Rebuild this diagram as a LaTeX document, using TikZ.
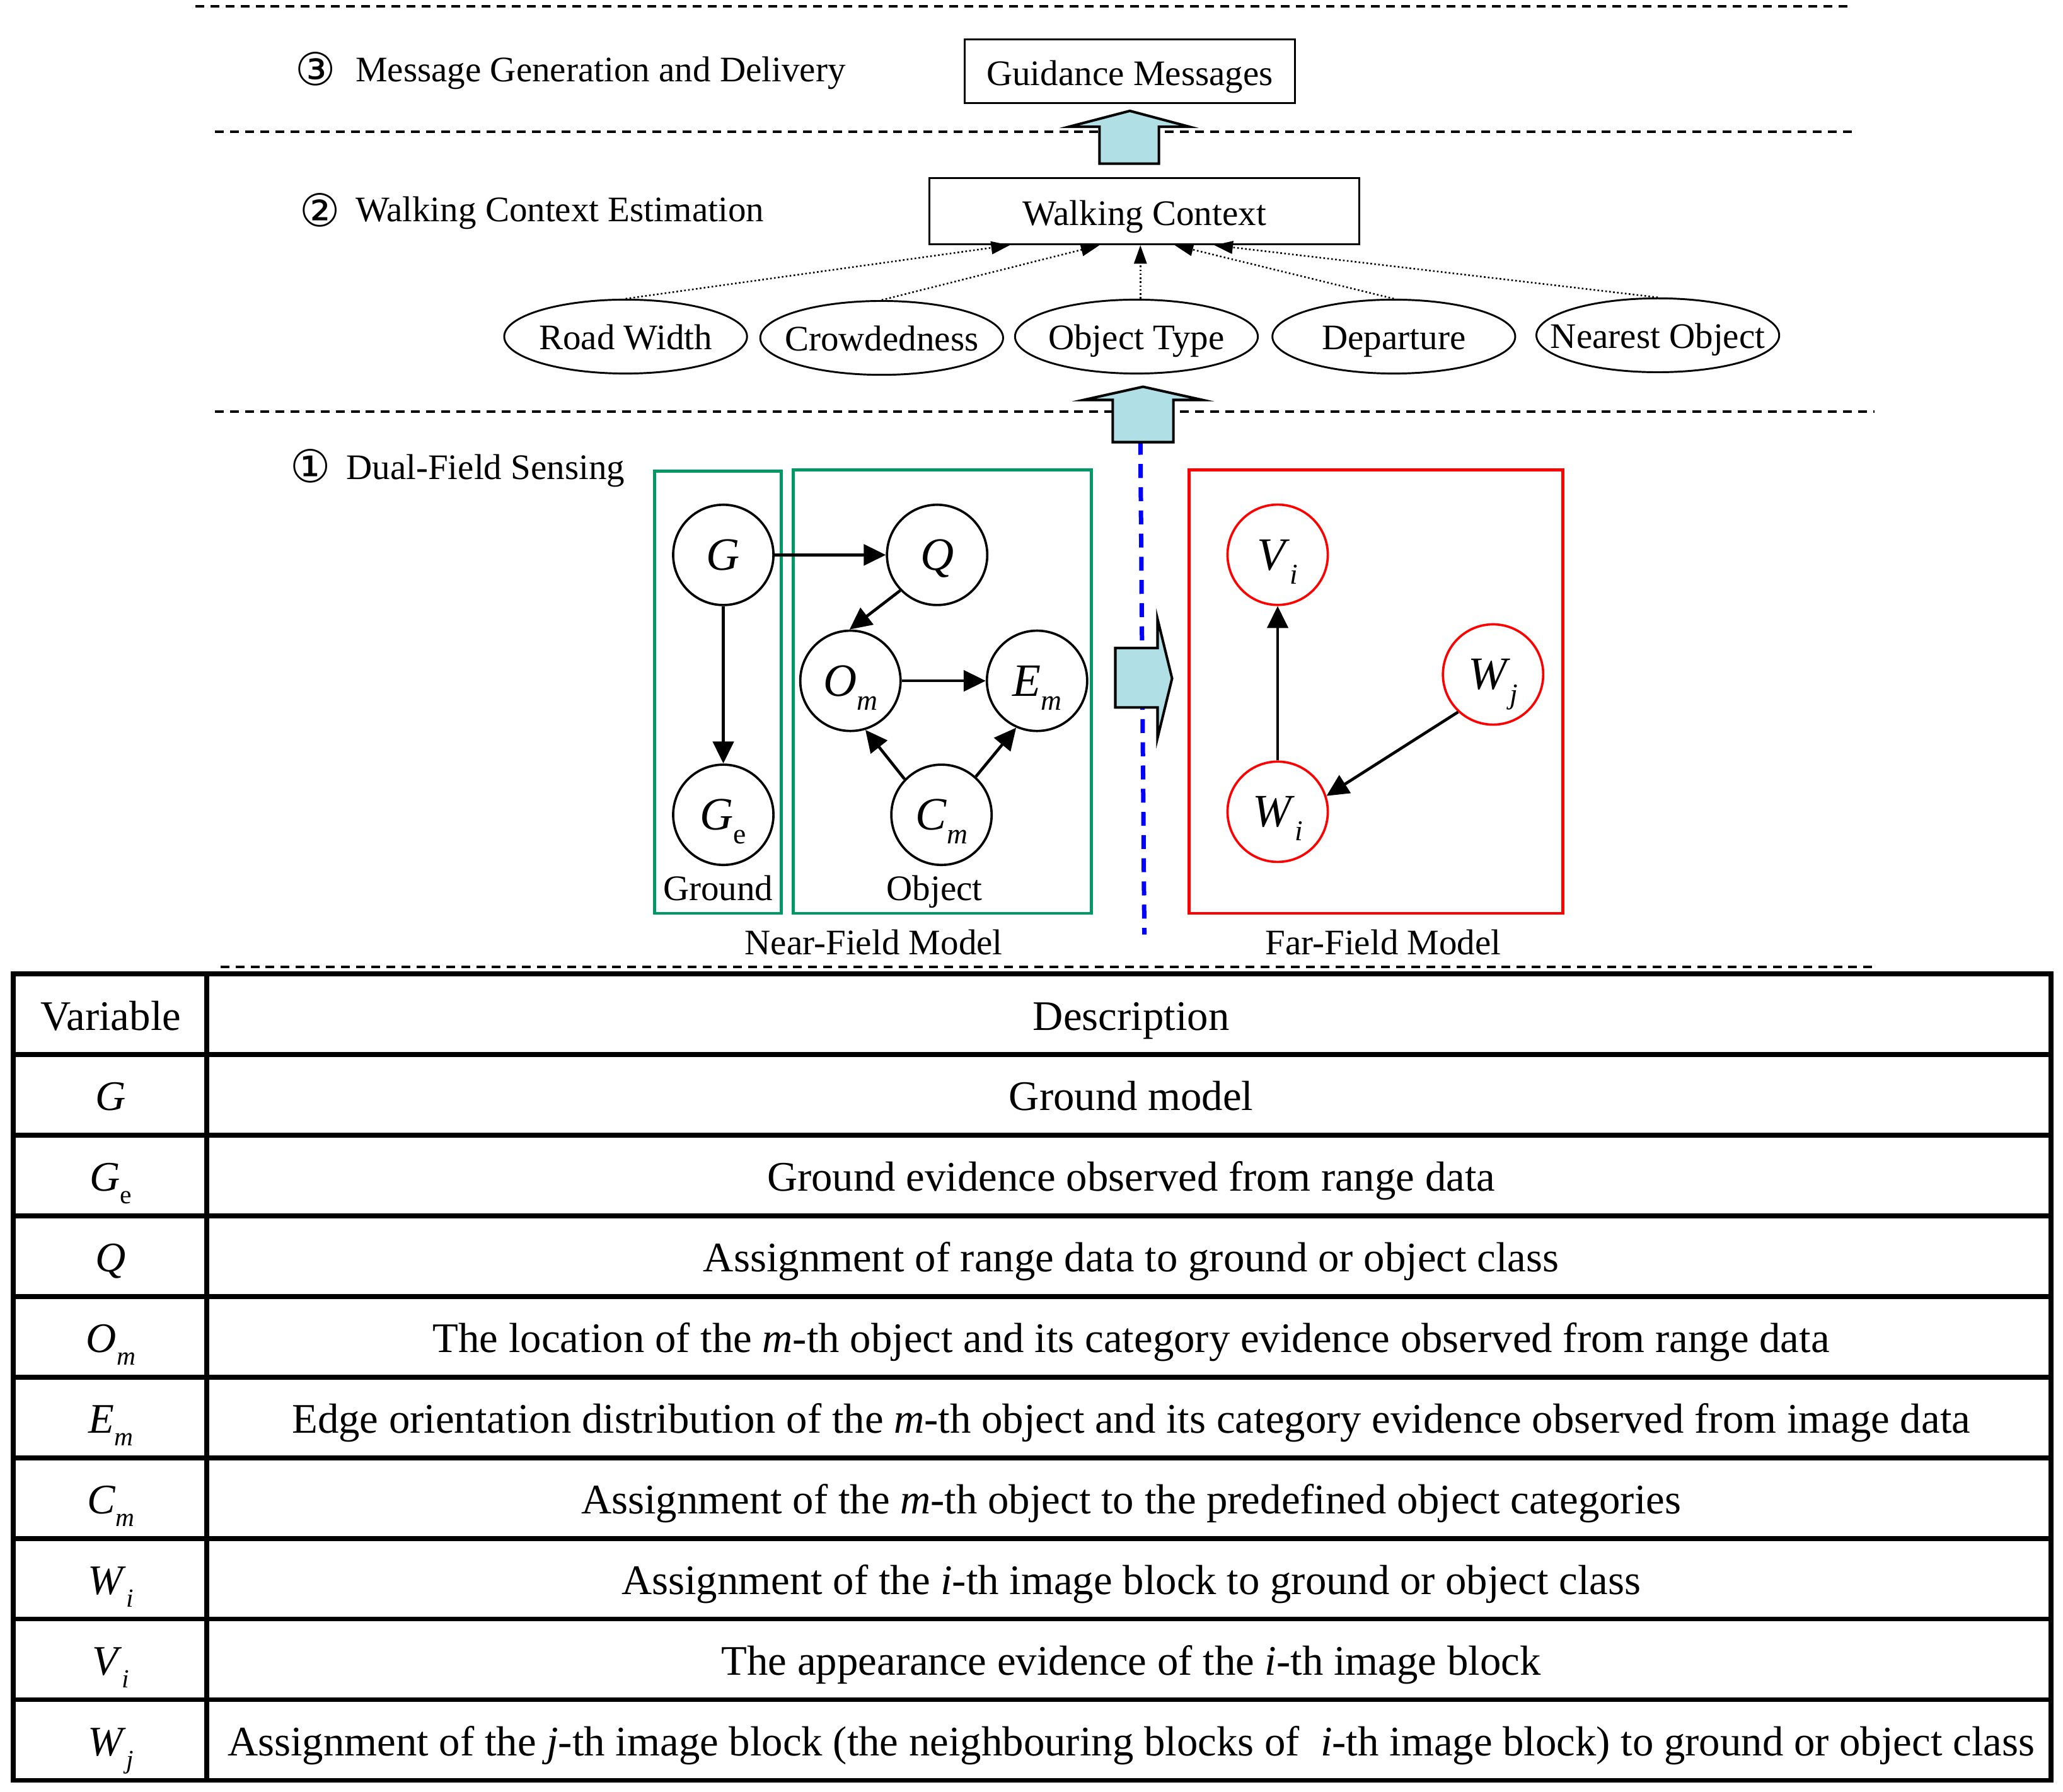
\documentclass[tikz,border=0pt]{standalone}
\usepackage{fontspec}
\setmainfont{Liberation Serif}
\newfontfamily\circfont{DejaVu Sans}
\usepackage{graphicx}
\usetikzlibrary{positioning,calc,shapes.geometric,arrows.meta}
\definecolor{neargreen}{RGB}{0,153,102}
\definecolor{farred}{RGB}{255,0,0}
\definecolor{flowcyan}{RGB}{176,224,230}
\newcommand{\toplabel}{\fontsize{15.5}{18}\selectfont}
\newcommand{\nodefont}{\fontsize{20}{24}\selectfont}
\newcommand{\tablefont}{\fontsize{18.15}{22}\selectfont}
\newcommand{\circnum}[1]{{\circfont\fontsize{19.5}{20}\selectfont #1}}
\newcommand{\sv}[2]{\textit{#1}\raisebox{-0.3em}{\scalebox{0.62}{#2}}}
\newcommand{\cuetext}[1]{\makebox[0pt]{#1}}

\begin{document}
\begin{tikzpicture}[x=0.02cm,y=-0.02cm,
		layerline/.style={line width=1.1pt,dash pattern=on 3.8pt off 2.7pt},
		stagebox/.style={draw,line width=0.9pt,inner sep=0pt,font=\toplabel,text height=12.4pt,text depth=0pt},
		cue/.style={draw,ellipse,line width=0.8pt,minimum width=3.68cm,minimum height=1.12cm,inner sep=0pt,font=\toplabel,text height=11pt,text depth=0pt},
		cuearrow/.style={densely dotted,line width=0.7pt,-{Triangle[length=8pt,width=5.5pt]}},
		blockarrow/.style={draw,line width=1.1pt,fill=flowcyan,line join=miter},
		nearvar/.style={draw,circle,line width=1pt,minimum size=1.52cm,inner sep=0pt,font=\nodefont,text height=13pt,text depth=0pt},
		farvar/.style={nearvar,draw=farred},
		depedge/.style={line width=1.25pt,-{Triangle[length=9.5pt,width=9pt]}},
		steplabel/.style={anchor=base west,inner sep=0pt,font=\toplabel},
		tabletext/.style={anchor=base,inner sep=0pt,font=\tablefont}]
	\useasboundingbox (0,0) rectangle (1563,1357.2);
	
	% layer separators
	\foreach \xa/\xb/\yy in {148/1403/4.7, 163/1403/99.8, 163/1420/311.7, 167/1422/732.5} {
		\draw[layerline] (\xa,\yy) -- (\xb,\yy);
	}
	
	% (3) message generation
	\node[inner sep=0pt] (num3) at (239.3,52) {\circnum{③}};
	\node[steplabel] (step3) at (269,62) {Message Generation and Delivery};
	\node[stagebox,minimum width=5cm,minimum height=0.96cm] (msg) at (856,54) {Guidance Messages};
	\draw[blockarrow] (833,124) -- (833,96) -- (810,96) -- (856,84) -- (901,96) -- (878,96) -- (878,124) -- cycle;
	
	% (2) walking context
	\node[inner sep=0pt] (num2) at (242.5,159) {\circnum{②}};
	\node[steplabel] (step2) at (269,168) {Walking Context Estimation};
	\node[stagebox,minimum width=6.52cm,minimum height=1cm] (wc) at (867,160) {Walking Context};
	
	\node[cue] (road) at (474,255) {\cuetext{Road Width}};
	\node[cue] (crowd) at (668,256) {\cuetext{Crowdedness}};
	\node[cue] (otype) at (861,255) {\cuetext{Object Type}};
	\node[cue] (depart) at (1056,255) {\cuetext{Departure}};
	\node[cue] (nearest) at (1256,254) {\cuetext{Nearest Object}};
	
	\draw[cuearrow] (road.north) -- ($(wc.south)+(-102,0)$);
	\draw[cuearrow] (crowd.north) -- ($(wc.south)+(-34,0)$);
	\draw[cuearrow] ($(otype.north)+(3,0)$) -- ($(wc.south)+(-3,0)$);
	\draw[cuearrow] (depart.north) -- ($(wc.south)+(23,0)$);
	\draw[cuearrow] (nearest.north) -- ($(wc.south)+(53,0)$);
	
	% (1) dual-field sensing
	\node[inner sep=0pt] (num1) at (235.5,353) {\circnum{①}};
	\node[steplabel] (step1) at (262,363) {Dual-Field Sensing};
	
	\draw[blue,line width=1.9pt,dash pattern=on 6pt off 4pt] (864,334) -- (867,708);
	\draw[blockarrow] (843,335) -- (843,303) -- (821,303) -- (866,293) -- (911,303) -- (889,303) -- (889,335) -- cycle;
	\draw[blockarrow] (845,491) -- (877,491) -- (877,469) -- (888,514) -- (877,559) -- (877,536) -- (845,536) -- cycle;
	
	% near-field model
	\draw[neargreen,line width=1.25pt] (496,357) rectangle (592,692);
	\draw[neargreen,line width=1.25pt] (601,356) rectangle (827,692);
	\node[nearvar] (g) at (548,420.4) {\textit{G}};
	\node[nearvar] (q) at (710,420.4) {\textit{Q}};
	\node[nearvar] (om) at (644.3,515.8) {\sv{O}{\textit{m}}};
	\node[nearvar] (em) at (785.7,515.8) {\sv{E}{\textit{m}}};
	\node[nearvar] (ge) at (548,617.3) {\sv{G}{e}};
	\node[nearvar] (cm) at (713.3,617.3) {\sv{C}{\textit{m}}};
	\node[anchor=base,inner sep=0pt,font=\toplabel] (groundlbl) at (544,682) {Ground};
	\node[anchor=base,inner sep=0pt,font=\toplabel] (objectlbl) at (708,682) {Object};
	\node[anchor=base,inner sep=0pt,font=\toplabel] (nearlbl) at (662,723) {Near-Field Model};
	
	\draw[depedge] (g) -- (q);
	\draw[depedge] (g) -- (ge);
	\draw[depedge] (q.224) -- (om.91);
	\draw[depedge] (om) -- (em);
	\draw[depedge] (cm.136) -- (om.287);
	\draw[depedge] (cm.48) -- (em.246);
	
	% far-field model
	\draw[farred,line width=1.25pt] (901,356) rectangle (1184,692);
	\node[farvar] (vi) at (968,420.3) {\sv{V}{\textit{i}}};
	\node[farvar] (wj) at (1131.2,511) {\sv{W}{\textit{j}}};
	\node[farvar] (wi) at (968,615) {\sv{W}{\textit{i}}};
	\node[anchor=base,inner sep=0pt,font=\toplabel] (farlbl) at (1048,723) {Far-Field Model};
	
	\draw[depedge] (wi) -- (vi);
	\draw[depedge] (wj.227) -- (wi.18);
	
	% variable table
	\draw[line width=2.1pt] (10,737.8) rectangle (1554,1348.8);
	\draw[line width=2.1pt] (156.6,737.8) -- (156.6,1348.8);
	\foreach \k in {1,...,9} {
		\draw[line width=2.1pt] (10,{737.8+61.1*\k}) -- (1554,{737.8+61.1*\k});
	}
	\node[tabletext] (varhead) at (84,780.3) {Variable};
	\node[tabletext] (deschead) at (857,780.3) {Description};
	\foreach \vv/\dd [count=\r] in {
		{\textit{G}}/{Ground model},
		{\sv{G}{e}}/{Ground evidence observed from range data},
		{\textit{Q}}/{Assignment of range data to ground or object class},
		{\sv{O}{\textit{m}}}/{The location of the \textit{m}-th object and its category evidence observed from range data},
		{\sv{E}{\textit{m}}}/{Edge orientation distribution of the \textit{m}-th object and its category evidence observed from image data},
		{\sv{C}{\textit{m}}}/{Assignment of the \textit{m}-th object to the predefined object categories},
		{\sv{W}{\textit{i}}}/{Assignment of the \textit{i}-th image block to ground or object class},
		{\sv{V}{\textit{i}}}/{The appearance evidence of the \textit{i}-th image block},
		{\sv{W}{\textit{j}}}/{Assignment of the \textit{j}-th image block (the neighbouring blocks of\ \ \textit{i}-th image block) to ground or object class}} {
		\node[tabletext] (var\r) at (84,{737.8+61.1*\r+42.5}) {\vv};
		\node[tabletext] (desc\r) at (857,{737.8+61.1*\r+42.5}) {\dd};
	}
\end{tikzpicture}
\end{document}
